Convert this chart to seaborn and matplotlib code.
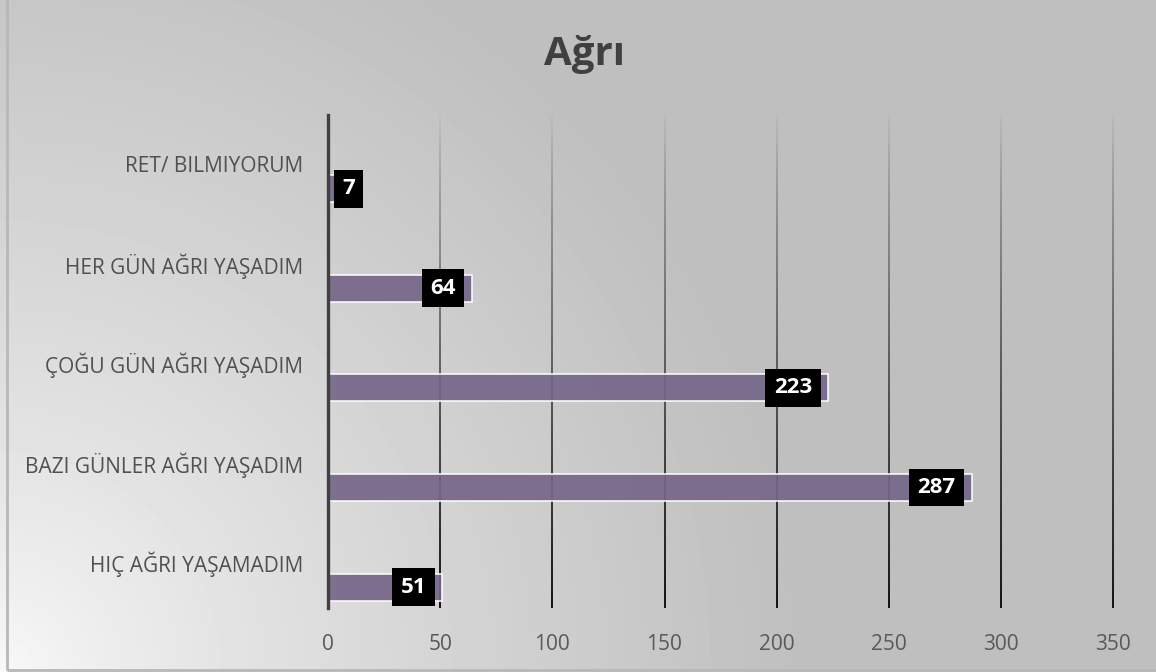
import numpy as np
import pandas as pd
import matplotlib
matplotlib.use("Agg")
import matplotlib.pyplot as plt
import seaborn as sns
from matplotlib.patches import Rectangle

# data
categories = ["RET/ BILMIYORUM", "HER GÜN AĞRI YAŞADIM", "ÇOĞU GÜN AĞRI YAŞADIM",
              "BAZI GÜNLER AĞRI YAŞADIM", "HIÇ AĞRI YAŞAMADIM"]
counts = [7, 64, 223, 287, 51]
x_ticks = [0, 50, 100, 150, 200, 250, 300, 350]
title = "Ağrı"

df = pd.DataFrame({"kategori": categories, "sayi": counts})

sns.set_theme(style="white")
plt.rcParams["font.family"] = ["Open Sans", "DejaVu Sans"]

W, H = 1156, 672
fig = plt.figure(figsize=(W / 100, H / 100), dpi=100)

# radial grey gradient background, light in the bottom-left corner
bg = fig.add_axes([0, 0, 1, 1], zorder=-10)
yy, xx = np.mgrid[0:H, 0:W]
d = np.sqrt(xx ** 2 + (H - yy) ** 2) / 800.0
t = np.clip(d, 0, 1) ** 0.8
shade = 0.975 - (0.975 - 0.749) * t
bg.imshow(shade, cmap="gray", vmin=0, vmax=1, aspect="auto", extent=[0, W, 0, H], origin="upper")
bg.set_xlim(0, W)
bg.set_ylim(0, H)
bg.axis("off")
bg.add_patch(Rectangle((7, 2), W + 20, H + 20, fill=False, edgecolor="#b8b8b8", linewidth=2))

ax = fig.add_axes([328 / W, 1 - 608 / H, (1113 - 328) / W, (608 - 115) / H])
ax.set_facecolor("none")

sns.barplot(data=df, x="sayi", y="kategori", orient="h", order=categories,
            width=0.27, color="#75608f", alpha=0.92, edgecolor="white",
            linewidth=1.2, ax=ax, zorder=3)

y_bot, y_top = 4.21, -0.74

# gradient vertical gridlines (fade out towards the top)
ramp = np.zeros((300, 1, 4))
ramp[:, 0, :3] = 0.09
ramp[:, 0, 3] = np.linspace(0, 1, 300) ** 0.8
for xv in x_ticks[1:]:
    ax.imshow(ramp, extent=[xv - 0.36, xv + 0.36, y_bot, y_top - 0.03], origin="upper",
              aspect="auto", interpolation="bilinear", zorder=1, clip_on=False)

ax.set_xlim(0, 350)
ax.set_ylim(y_bot, y_top)

ax.set_xticks(x_ticks)
ax.set_xticklabels([str(v) for v in x_ticks], fontsize=15, color="#595959")
ax.set_yticks(np.arange(len(categories)) - 0.25)
ax.set_yticklabels(categories, fontsize=15, color="#505050")
ax.tick_params(axis="x", length=0, pad=19)
ax.tick_params(axis="y", length=0, pad=18)
ax.set_xlabel("")
ax.set_ylabel("")

for s in ["top", "right", "bottom"]:
    ax.spines[s].set_visible(False)
ax.spines["left"].set_color("#404040")
ax.spines["left"].set_linewidth(2.4)
ax.spines["left"].set_zorder(4)

# data labels in black boxes
box = dict(boxstyle="square,pad=0.38", fc="black", ec="none")
for i, v in enumerate(counts):
    if v < 20:
        ax.annotate(str(v), xy=(0, i), xytext=(14, 0), textcoords="offset pixels",
                    ha="left", va="center", fontsize=16, fontweight="bold", color="white",
                    bbox=box, zorder=5)
    else:
        ax.annotate(str(v), xy=(v, i), xytext=(-16, 0), textcoords="offset pixels",
                    ha="right", va="center", fontsize=16, fontweight="bold", color="white",
                    bbox=box, zorder=5)

fig.text(584 / W, 1 - 55 / H, title, ha="center", va="center", fontsize=29,
         fontweight="bold", color="#404040")

fig.savefig("out.png", dpi=100)
